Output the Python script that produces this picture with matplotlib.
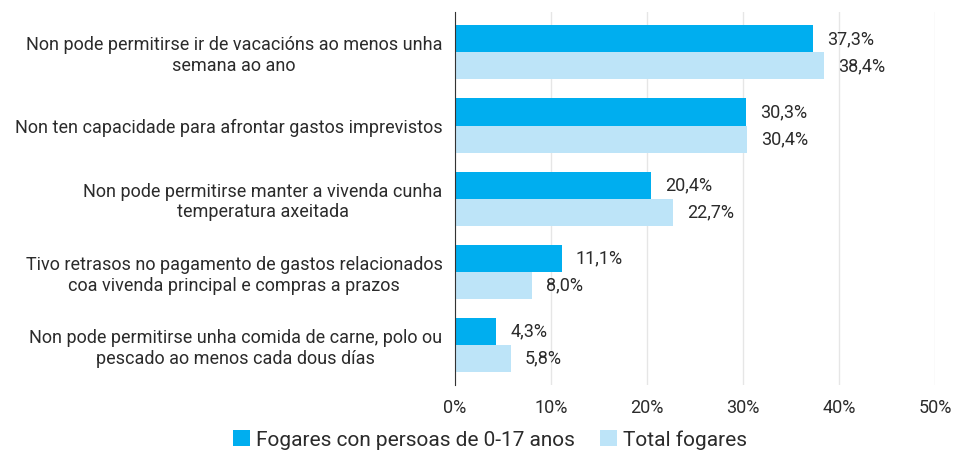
import matplotlib.pyplot as plt
import numpy as np

plt.rcParams['font.family'] = ['Roboto', 'DejaVu Sans']

categorias = [
    "Non pode permitirse ir de vacacións ao menos unha\nsemana ao ano",
    "Non ten capacidade para afrontar gastos imprevistos",
    "Non pode permitirse manter a vivenda cunha\ntemperatura axeitada",
    "Tivo retrasos no pagamento de gastos relacionados\ncoa vivenda principal e compras a prazos",
    "Non pode permitirse unha comida de carne, polo ou\npescado ao menos cada dous días",
]
fogares_0_17 = [37.3, 30.3, 20.4, 11.1, 4.3]
total_fogares = [38.4, 30.4, 22.7, 8.0, 5.8]
series_names = ["Fogares con persoas de 0-17 anos", "Total fogares"]
colors = ["#00AEEF", "#BDE4F8"]
ticks = [0, 10, 20, 30, 40, 50]

fig = plt.figure(figsize=(9.67, 4.68), dpi=100)
ax = fig.add_axes([0.4705, 0.177, 0.4965, 0.797])

y = np.arange(len(categorias))
h = 0.37
b1 = ax.barh(y - h / 2, fogares_0_17, height=h, color=colors[0], label=series_names[0], zorder=3)
b2 = ax.barh(y + h / 2, total_fogares, height=h, color=colors[1], label=series_names[1], zorder=3)

def fmt(v):
    return ("%.1f%%" % v).replace(".", ",")

# value labels just right of each bar
for bars, vals in ((b1, fogares_0_17), (b2, total_fogares)):
    for bar, v in zip(bars, vals):
        ax.text(v + 1.5, bar.get_y() + bar.get_height() / 2, fmt(v),
                va='center', ha='left', fontsize=13, color='#2b2b2b')

ax.set_xlim(0, 50)
ax.set_ylim(len(categorias) - 0.45, -0.55)
ax.set_xticks(ticks)
ax.set_xticklabels(["%d%%" % t for t in ticks], fontsize=13, color='#2b2b2b')
ax.set_yticks(y)
ax.set_yticklabels(categorias, fontsize=13, color='#2b2b2b', multialignment='center')
ax.tick_params(axis='both', length=0)
ax.tick_params(axis='x', pad=10)
ax.tick_params(axis='y', pad=9)
ax.grid(axis='x', color='#e6e6e6', linewidth=1, zorder=0)
for s in ['top', 'right', 'bottom']:
    ax.spines[s].set_visible(False)
ax.spines['left'].set_color('#333333')
ax.spines['left'].set_zorder(4)

fig.legend(loc='center', bbox_to_anchor=(0.507, 0.06), ncol=2, frameon=False,
           fontsize=15, handlelength=0.8, handleheight=0.8, handletextpad=0.3,
           columnspacing=1.2, labelcolor='#2b2b2b')

fig.savefig("out.png", dpi=100)
